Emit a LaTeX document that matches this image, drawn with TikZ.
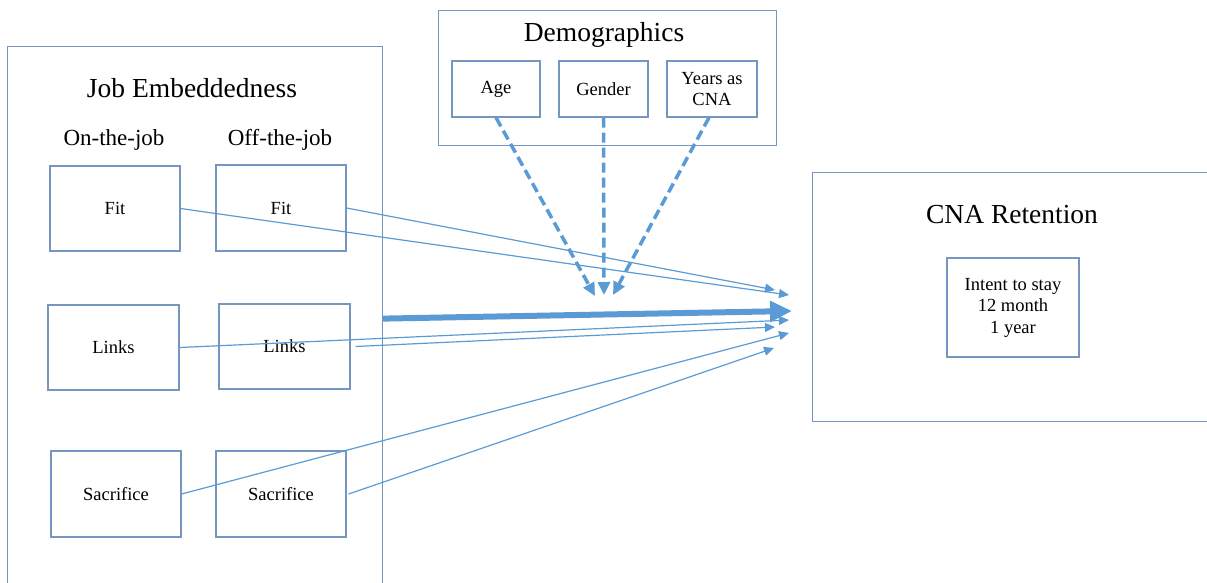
\documentclass[tikz,border=0pt]{standalone}
\usepackage{fontspec}
\setmainfont{Liberation Serif}
\usetikzlibrary{arrows.meta}

\definecolor{boxline}{RGB}{118,150,192}
\definecolor{arrowblue}{RGB}{91,155,213}

\begin{document}
\begin{tikzpicture}[x=1pt, y=-1pt, font=\fontsize{18.5}{21.5}\selectfont]
    \tikzset{group box/.style={draw=boxline, line width=1.2pt, anchor=north west, inner sep=0pt},
             item box/.style={draw=boxline, line width=1.2pt, inner sep=0pt, align=center},
             big label/.style={font=\fontsize{27.5}{32}\selectfont},
             side label/.style={font=\fontsize{23}{27}\selectfont},
             thin arrow/.style={draw=arrowblue, line width=1.2pt, -{Triangle[length=10pt,width=9pt]}},
             thick arrow/.style={draw=arrowblue, line width=6pt, -{Triangle[length=22pt,width=20pt]}},
             dash arrow/.style={draw=arrowblue, line width=3.5pt, dash pattern=on 10pt off 5pt,
                                -{Triangle[length=13pt,width=12pt]}}}
    \clip (0,0) rectangle (1207,582);

    % Job embeddedness block (runs past the bottom edge)
    \node[group box, minimum width=375pt, minimum height=544pt] (job) at (7, 46) {};
    \node[big label] (jobtitle) at (192, 88) {Job Embeddedness};
    \node[side label] (onjob) at (114, 140) {On-the-job};
    \node[side label] (offjob) at (280, 140) {Off-the-job};

    % On-the-job dimensions
    \node[item box, minimum width=130pt, minimum height=85pt] (fiton) at (115, 208.5) {Fit};
    \node[item box, minimum width=131pt, minimum height=85pt] (linkson) at (113.5, 347.5) {Links};
    \node[item box, minimum width=130pt, minimum height=86pt] (sacon) at (116, 494) {Sacrifice};

    % Off-the-job dimensions
    \node[item box, minimum width=130pt, minimum height=86pt] (fitoff) at (281, 208) {Fit};
    \node[item box, minimum width=131pt, minimum height=85pt] (linksoff) at (284.5, 346.5) {Links};
    \node[item box, minimum width=130pt, minimum height=86pt] (sacoff) at (281, 494) {Sacrifice};

    % Demographics block
    \node[group box, minimum width=338pt, minimum height=135pt] (demo) at (438, 10) {};
    \node[big label] (demotitle) at (604, 35) {Demographics};
    \node[item box, minimum width=88pt, minimum height=56pt] (age) at (496, 89) {Age};
    \node[item box, minimum width=89pt, minimum height=56pt] (gender) at (603.5, 89) {Gender};
    \node[item box, minimum width=90pt, minimum height=56pt] (years) at (712, 89) {Years as\\CNA};

    % Retention block (runs past the right edge)
    \node[group box, minimum width=403pt, minimum height=249pt] (ret) at (812, 172) {};
    \node[big label] (rettitle) at (1012, 215) {CNA Retention};
    \node[item box, minimum width=132pt, minimum height=99pt] (intent) at (1013, 307.5)
        {Intent to stay\\12 month\\1 year};

    % Arrow ends in front of the retention block
    \coordinate (tfiton) at (789, 295);
    \coordinate (tfitoff) at (775, 290);
    \coordinate (tjob) at (792, 311);
    \coordinate (tlinkson) at (789, 320);
    \coordinate (tlinksoff) at (775, 327);
    \coordinate (tsacon) at (789, 333);
    \coordinate (tsacoff) at (774, 348);
    \coordinate (tage) at (595, 296);
    \coordinate (tgender) at (604, 295);
    \coordinate (tyears) at (613, 295);

    % Dimension effects
    \draw[thin arrow] (fiton.east) -- (tfiton);
    \draw[thin arrow] (fitoff.east) -- (tfitoff);
    \draw[thin arrow] (linkson.east) -- (tlinkson);
    \draw[thin arrow] ([xshift=5pt]linksoff.east) -- (tlinksoff);
    \draw[thin arrow] (sacon.east) -- (tsacon);
    \draw[thin arrow] ([xshift=2pt]sacoff.east) -- (tsacoff);

    % Overall effect
    \draw[thick arrow] (job.east) -- (tjob);

    % Demographic controls
    \draw[dash arrow] (age.south) -- (tage);
    \draw[dash arrow] (gender.south) -- (tgender);
    \draw[dash arrow] ([xshift=-3pt]years.south) -- (tyears);
\end{tikzpicture}
\end{document}
